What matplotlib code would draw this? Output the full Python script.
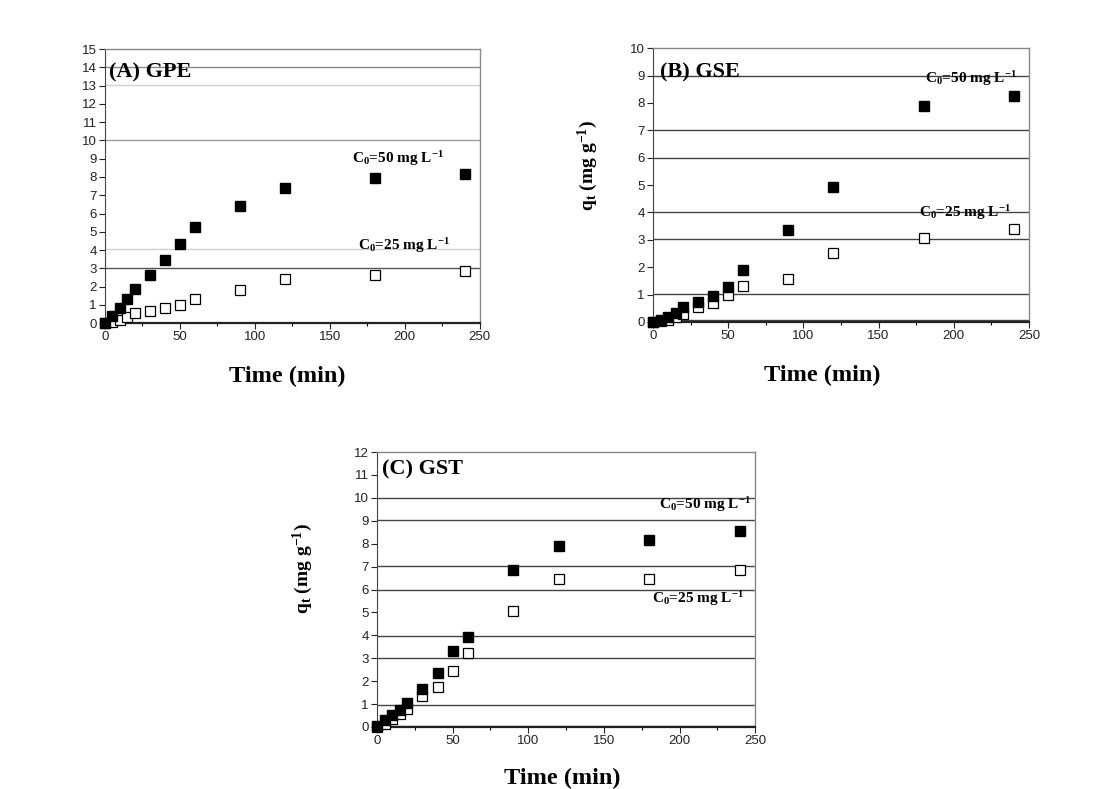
import matplotlib
matplotlib.use('Agg')
import matplotlib.pyplot as plt
from matplotlib.ticker import MultipleLocator

plt.rcParams['font.family'] = ['Liberation Sans', 'DejaVu Sans']
plt.rcParams['mathtext.fontset'] = 'custom'
plt.rcParams['mathtext.rm'] = 'Liberation Serif'
plt.rcParams['mathtext.bf'] = 'Liberation Serif:bold'
plt.rcParams['mathtext.it'] = 'Liberation Serif:bold'
plt.rcParams['mathtext.default'] = 'bf'

# contact time (min)
time = [0, 5, 10, 15, 20, 30, 40, 50, 60, 90, 120, 180, 240]

# (A) GPE
gpe_50 = [0.0, 0.38, 0.84, 1.32, 1.88, 2.61, 3.47, 4.33, 5.28, 6.42, 7.39, 7.92, 8.15]
gpe_25 = [0.0, 0.05, 0.18, 0.33, 0.55, 0.64, 0.84, 1.00, 1.32, 1.83, 2.41, 2.61, 2.85]

# (B) GSE
gse_50 = [0.0, 0.07, 0.18, 0.33, 0.55, 0.73, 0.94, 1.27, 1.91, 3.35, 4.94, 7.90, 8.26]
gse_25 = [0.0, 0.02, 0.08, 0.20, 0.28, 0.54, 0.69, 0.97, 1.31, 1.57, 2.52, 3.05, 3.39]

# (C) GST
gst_50 = [0.03, 0.32, 0.54, 0.76, 1.05, 1.66, 2.36, 3.32, 3.93, 6.87, 7.90, 8.17, 8.54]
gst_25 = [0.0, 0.15, 0.36, 0.58, 0.80, 1.35, 1.75, 2.44, 3.24, 5.08, 6.44, 6.47, 6.87]

# stray horizontal rules visible in the scanned figure
rules_a = [(14.04, '#8a8a8a'), (13.03, '#d0d0d0'), (10.02, '#9a9a9a'),
           (4.04, '#d0d0d0'), (3.03, '#555555')]
rules_b = [9.0, 7.0, 6.0, 4.01, 3.03, 1.02, 0.06]
rules_c = [10.0, 9.02, 7.01, 6.0, 3.99, 3.0, 0.97, 0.03]

fig = plt.figure(figsize=(10.96, 7.89), dpi=100)
axA = fig.add_axes([0.0958, 0.5906, 0.342, 0.347])
axB = fig.add_axes([0.5958, 0.5919, 0.343, 0.347])
axC = fig.add_axes([0.344, 0.0786, 0.345, 0.3485])


def style_axes(ax, ymax):
  ax.set_xlim(0, 250)
  ax.set_ylim(0, ymax)
  ax.xaxis.set_major_locator(MultipleLocator(50))
  ax.xaxis.set_minor_locator(MultipleLocator(25))
  ax.yaxis.set_major_locator(MultipleLocator(1))
  ax.tick_params(axis='both', which='major', direction='out', length=4,
                 width=0.8, labelsize=9.5, colors='#222222', pad=2)
  ax.tick_params(axis='x', which='minor', direction='out', length=2.5, width=0.8)
  for s in ['top', 'right']:
    ax.spines[s].set_color('#888888')
    ax.spines[s].set_linewidth(1.0)
  ax.spines['left'].set_color('#444444')
  ax.spines['bottom'].set_color('#222222')
  ax.spines['bottom'].set_linewidth(1.6)
  ax.set_xlabel('Time (min)', family='Liberation Serif', fontweight='bold',
                fontsize=17.5)


def plot_series(ax, y50, y25):
  ax.plot(time, y50, 's', ms=7, color='black', mec='black', clip_on=False, zorder=4)
  ax.plot(time, y25, 's', ms=7, mfc='white', mec='black', mew=0.9,
          clip_on=False, zorder=3)


ylab = r'q$_t$ (mg g$^{-1}$)'
serif = dict(family='Liberation Serif', fontweight='bold')

# (A)
for val, col in rules_a:
  axA.axhline(val, color=col, lw=1.0, zorder=1)
plot_series(axA, gpe_50, gpe_25)
style_axes(axA, 15)
axA.xaxis.set_label_coords(0.485, -0.155)
axA.text(3, 13.7, '(A) GPE', va='center', fontsize=16, **serif)
axA.text(165, 9.0, r'C$_0$=50 mg L$^{-1}$', va='center', fontsize=11, **serif)
axA.text(169, 4.27, r'C$_0$=25 mg L$^{-1}$', va='center', fontsize=11, **serif)

# (B)
for val in rules_b:
  axB.axhline(val, color='#444444', lw=1.0, zorder=1)
plot_series(axB, gse_50, gse_25)
style_axes(axB, 10)
axB.xaxis.set_label_coords(0.45, -0.155)
axB.set_ylabel(ylab, fontsize=14, **serif)
axB.yaxis.set_label_coords(-0.14, 0.57)
axB.text(4.7, 9.1, '(B) GSE', va='center', fontsize=16, **serif)
axB.text(181, 8.9, r'C$_0$=50 mg L$^{-1}$', va='center', fontsize=11, **serif)
axB.text(177, 4.0, r'C$_0$=25 mg L$^{-1}$', va='center', fontsize=11, **serif)

# (C)
for val in rules_c:
  axC.axhline(val, color='#444444', lw=1.0, zorder=1)
plot_series(axC, gst_50, gst_25)
style_axes(axC, 12)
axC.xaxis.set_label_coords(0.49, -0.15)
axC.set_ylabel(ylab, fontsize=14, **serif)
axC.yaxis.set_label_coords(-0.164, 0.578)
axC.text(3.3, 11.25, '(C) GST', va='center', fontsize=16, **serif)
axC.text(186.5, 9.7, r'C$_0$=50 mg L$^{-1}$', va='center', fontsize=11, **serif)
axC.text(182, 5.6, r'C$_0$=25 mg L$^{-1}$', va='center', fontsize=11, **serif)

fig.savefig('out.png', dpi=100)
